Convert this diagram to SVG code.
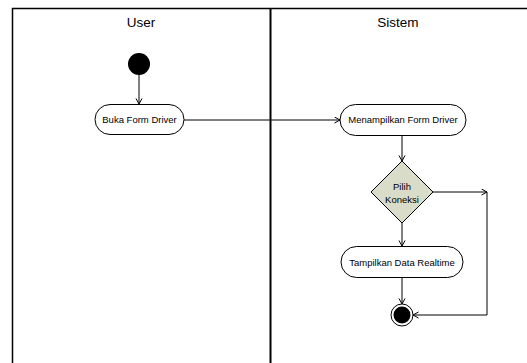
<svg xmlns="http://www.w3.org/2000/svg" width="527" height="363" viewBox="0 0 527 363">
  <style>
    .lane { stroke: #000; fill: none; }
    .lane-title { font-family: "Liberation Sans", Arial, sans-serif; font-size: 13.5px; fill: #000; text-anchor: middle; }
    .action { fill: #fff; stroke: #000; stroke-width: 1; }
    .label { font-family: "Liberation Sans", Arial, sans-serif; font-size: 9.5px; fill: #000; text-anchor: middle; }
    .decision { fill: #d9dcc8; stroke: #000; stroke-width: 1; }
    .edge { fill: none; stroke: #000; stroke-width: 1; }
  </style>
  <defs>
    <marker id="open-arrow" markerWidth="8" markerHeight="8" refX="6" refY="3.5" orient="auto" markerUnits="userSpaceOnUse">
      <path d="M0.5,0.5 L6,3.5 L0.5,6.5" fill="none" stroke="#000" stroke-width="1"/>
    </marker>
  </defs>

  <rect width="527" height="363" fill="#fff"/>

  <!-- swimlanes -->
  <g id="swimlanes">
    <line class="lane" x1="12" y1="8.5" x2="527" y2="8.5" stroke-width="1.5"/>
    <line class="lane" x1="12.5" y1="8" x2="12.5" y2="363" stroke="#444" stroke-width="1.5"/>
    <line class="lane" x1="270.5" y1="8" x2="270.5" y2="363" stroke="#333" stroke-width="2"/>
    <text class="lane-title" x="141" y="27">User</text>
    <text class="lane-title" x="398" y="27">Sistem</text>
  </g>

  <!-- connectors -->
  <g id="connectors">
    <line class="edge" x1="139" y1="75" x2="139" y2="104" marker-end="url(#open-arrow)"/>
    <line class="edge" x1="184" y1="120" x2="340" y2="120" marker-end="url(#open-arrow)"/>
    <line class="edge" x1="402" y1="135" x2="402" y2="161" marker-end="url(#open-arrow)"/>
    <line class="edge" x1="433" y1="192" x2="487" y2="192" marker-end="url(#open-arrow)"/>
    <polyline class="edge" points="487,192 487,315 413,315" marker-end="url(#open-arrow)"/>
    <line class="edge" x1="402" y1="223" x2="402" y2="246" marker-end="url(#open-arrow)"/>
    <line class="edge" x1="402" y1="278" x2="402" y2="304" marker-end="url(#open-arrow)"/>
  </g>

  <!-- initial state -->
  <g id="start">
    <circle cx="139" cy="64" r="11" fill="#000"/>
  </g>

  <g id="buka-form-driver">
    <rect class="action" x="95" y="104.5" width="89" height="30" rx="15" ry="15"/>
    <text class="label" x="139.5" y="123">Buka Form Driver</text>
  </g>

  <g id="menampilkan-form-driver">
    <rect class="action" x="340" y="104.5" width="126" height="31" rx="15.5" ry="15.5"/>
    <text class="label" x="403" y="123">Menampilkan Form Driver</text>
  </g>

  <g id="pilih-koneksi">
    <polygon class="decision" points="402,161 433,192 402,223 371,192"/>
    <text class="label" x="402" y="190">Pilih</text>
    <text class="label" x="402" y="203">Koneksi</text>
  </g>

  <g id="tampilkan-data-realtime">
    <rect class="action" x="341" y="246.5" width="122" height="31" rx="15.5" ry="15.5"/>
    <text class="label" x="402" y="265.5">Tampilkan Data Realtime</text>
  </g>

  <!-- final state -->
  <g id="end">
    <circle cx="402" cy="315" r="11" fill="#fff" stroke="#000" stroke-width="1"/>
    <circle cx="402" cy="315" r="8.5" fill="#000"/>
  </g>
</svg>
